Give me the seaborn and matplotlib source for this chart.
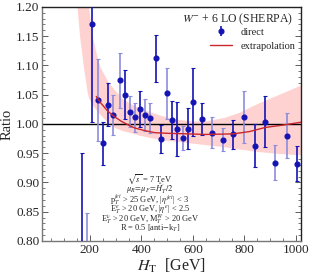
import numpy as np
import pandas as pd
import matplotlib
matplotlib.use("Agg")
import matplotlib.pyplot as plt
from matplotlib.lines import Line2D
from matplotlib.ticker import MultipleLocator
import seaborn as sns

# direct W- + 6 jets LO ratio points
ht = [170, 190, 210, 230, 250, 270, 290, 315, 335, 355, 375, 395, 415, 435, 455, 475,
      500, 520, 540, 560, 580, 600, 635, 675, 715, 755, 800, 840, 880, 920, 965, 1005]
ratio = [0.70, 0.62, 1.170, 1.041, 0.967, 1.033, 1.015, 1.075, 1.050, 1.021, 1.011, 1.025,
         1.015, 1.010, 1.112, 0.975, 1.052, 1.007, 0.992, 0.976, 0.992, 1.038,
         1.008, 0.985, 0.973, 0.982, 1.012, 0.963, 1.004, 0.934, 0.980, 0.932]
err = [0.25, 0.228, 0.167, 0.070, 0.037, 0.037, 0.034, 0.047, 0.042, 0.027, 0.025, 0.031,
       0.027, 0.026, 0.040, 0.024, 0.043, 0.032, 0.046, 0.020, 0.035, 0.058,
       0.027, 0.026, 0.020, 0.025, 0.044, 0.037, 0.044, 0.030, 0.038, 0.030]
# 1 = dark error bar, 0 = light error bar
dark = [1, 0, 1, 0, 1, 1, 0, 0, 1, 0, 0, 1, 0, 0, 1, 1, 0, 1, 1, 0, 1, 1,
        1, 0, 0, 1, 0, 1, 1, 0, 0, 1]

# extrapolation curve
fit_ht = [225, 240, 270, 300, 322, 350, 374, 410, 452, 500, 580, 650, 757, 820, 881, 950, 1020]
fit_ratio = [1.047, 1.037, 1.0215, 1.011, 1.0045, 0.998, 0.993, 0.989, 0.985, 0.984, 0.983,
             0.982, 0.983, 0.987, 0.994, 0.998, 1.003]

# uncertainty band of the extrapolation
band_ht = [150, 160, 175, 190, 195, 210, 225, 240, 270, 300, 330, 360, 390, 430, 480,
           540, 600, 660, 720, 780, 850, 920, 1020]
band_lo = [1.20, 1.15, 1.097, 1.053, 1.045, 1.032, 1.024, 1.016, 1.002, 0.993, 0.988, 0.985,
           0.981, 0.977, 0.973, 0.970, 0.967, 0.964, 0.961, 0.957, 0.953, 0.950, 0.947]
band_hi = [1.30, 1.30, 1.30, 1.30, 1.20, 1.148, 1.12, 1.097, 1.072, 1.056, 1.042, 1.034,
           1.028, 1.021, 1.014, 1.008, 1.005, 1.006, 1.011, 1.020, 1.035, 1.048, 1.067]

notes = [r"$\sqrt{s}$ = 7 TeV",
         r"$\mu_R\!=\!\mu_F\!=\!\hat{H}_T'/2$",
         r"p$_T^{jet}$ > 25 GeV, |$\eta^{jet}$| < 3",
         r"E$_T^{e}$ > 20 GeV, |$\eta^{e}$| < 2.5",
         r"E$_T^{\nu}$ > 20 GeV, M$_T^{W}$ > 20 GeV",
         r"R = 0.5 [anti$-$k$_T$]"]

sns.set_style("ticks")
plt.rcParams["font.family"] = ["Liberation Serif", "DejaVu Serif"]
plt.rcParams["mathtext.fontset"] = "stix"

DARK = "#1414b4"
LIGHT = "#8c8cdc"
RED = "#c8282d"

fig = plt.figure(figsize=(3.15, 2.76), dpi=100)
ax = fig.add_axes([0.134, 0.127, 0.822, 0.848])

ax.fill_between(band_ht, band_lo, band_hi, color="#ffd2d2", lw=0, zorder=1)
ax.axhline(1.0, color="black", lw=1.0, zorder=2)

df = pd.DataFrame({"ht": ht, "ratio": ratio, "err": err, "dark": dark})
for flag, col in [(0, LIGHT), (1, DARK)]:
    sub = df[df["dark"] == flag]
    ax.errorbar(sub["ht"], sub["ratio"], yerr=sub["err"], fmt="none", ecolor=col,
                elinewidth=1.2, capsize=1.3, capthick=0.8, zorder=3)
ax.plot(df["ht"], df["ratio"], "o", color=DARK, ms=3.4, zorder=4)

fit_df = pd.DataFrame({"ht": fit_ht, "ratio": fit_ratio})
sns.lineplot(data=fit_df, x="ht", y="ratio", color=RED, lw=1.0, ax=ax, zorder=5)

ax.set_xlim(15, 1020)
ax.set_ylim(0.80, 1.20)
ax.xaxis.set_major_locator(MultipleLocator(200))
ax.xaxis.set_minor_locator(MultipleLocator(50))
ax.yaxis.set_major_locator(MultipleLocator(0.05))
ax.yaxis.set_minor_locator(MultipleLocator(0.01))
ax.yaxis.set_major_formatter(plt.FormatStrFormatter("%.2f"))
ax.tick_params(which="both", direction="in", right=True, top=False, labelsize=9.5,
               color="#444444", pad=2)
ax.tick_params(which="major", length=4, width=0.6)
ax.tick_params(which="minor", length=2, width=0.5)
for side in ["left", "bottom"]:
    ax.spines[side].set_color("#777777")
for side in ["top", "right"]:
    ax.spines[side].set_color("#222222")
for s in ax.spines.values():
    s.set_linewidth(1.0)

ax.set_xlabel(r"$H_\mathrm{T}$  [GeV]", fontsize=11.5, labelpad=1)
ax.set_ylabel("Ratio", fontsize=10.5)
ax.yaxis.set_label_coords(-0.112, 0.5)

# legend title drawn separately so the spacing matches the original
ax.text(0.969, 0.949, r"$W^{-}$ + 6 LO (SHERPA)", transform=ax.transAxes,
        ha="right", va="center", fontsize=8.5)
eb = ax.errorbar([], [], yerr=[], fmt="o", color=DARK, ms=3.4, elinewidth=1.2, capsize=1.3)
red_line = Line2D([0], [0], color=RED, lw=1.0)
ax.legend([eb, red_line], ["direct", "extrapolation"], loc="upper right", frameon=False,
          fontsize=7.5, handlelength=2.2, handletextpad=0.8, borderaxespad=0,
          labelspacing=0.45, bbox_to_anchor=(0.995, 0.93))

# cuts / settings block as one centred multi-line text
ax.text(0.416, 0.163, "\n".join(notes), transform=ax.transAxes, ha="center", va="center",
        multialignment="center", linespacing=0.58, fontsize=6)

sns.despine(ax=ax, top=False, right=False)
fig.savefig("out.png", dpi=100)
